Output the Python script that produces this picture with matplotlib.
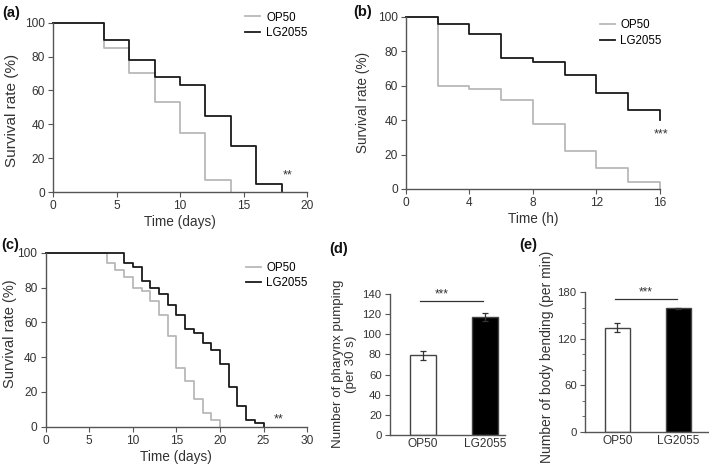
import matplotlib
matplotlib.use("Agg")
import matplotlib.pyplot as plt
from matplotlib.ticker import MultipleLocator

plt.rcParams['font.family'] = ['Liberation Sans', 'DejaVu Sans']

GRAY = '#b9b9b9'
BLACK = '#1a1a1a'
TXT = '#333333'

# (a) survival, days
a_op50_t = [0, 4, 6, 8, 10, 12, 14]
a_op50_s = [100, 85, 70, 53, 35, 7, 0]
a_lg_t = [0, 4, 6, 8, 10, 12, 14, 16, 18]
a_lg_s = [100, 90, 78, 68, 63, 45, 27, 5, 0]

# (b) survival, hours
b_op50_t = [0, 2, 4, 6, 8, 10, 12, 14, 16]
b_op50_s = [100, 60, 58, 52, 38, 22, 12, 4, 0]
b_lg_t = [0, 2, 4, 6, 8, 10, 12, 14, 16]
b_lg_s = [100, 96, 90, 76, 74, 66, 56, 46, 40]

# (c) lifespan, days
c_op50_t = [0, 7, 8, 9, 10, 11, 12, 13, 14, 15, 16, 17, 18, 19, 20]
c_op50_s = [100, 94, 90, 86, 80, 78, 72, 64, 52, 34, 26, 16, 8, 4, 0]
c_lg_t = [0, 9, 10, 11, 12, 13, 14, 15, 16, 17, 18, 19, 20, 21, 22, 23, 24, 25]
c_lg_s = [100, 94, 92, 84, 80, 76, 70, 64, 56, 54, 48, 44, 36, 23, 12, 4, 2, 0]

# (d), (e) bars
groups = ['OP50', 'LG2055']
pumping = [79, 117]
pumping_err = [4.5, 4]
bending = [134, 159]
bending_err = [6, 1]

fig = plt.figure(figsize=(7.09, 4.68), dpi=100)


def style(ax, tsize=8.6):
    for s in ['top', 'right']:
        ax.spines[s].set_visible(False)
    for s in ['left', 'bottom']:
        ax.spines[s].set_color('#555555')
        ax.spines[s].set_linewidth(1.0)
    ax.tick_params(labelsize=tsize, colors='#555555', labelcolor=TXT, length=3.5, width=0.8, pad=2.5)


def survival(rect, op_t, op_s, lg_t, lg_s, xmax, xstep, xlabel, ylab_size, ylab_xy,
             leg_pos, stars, star_xy):
    ax = fig.add_axes(rect)
    ax.step(op_t, op_s, where='post', color=GRAY, lw=1.3, clip_on=False, label='OP50')
    ax.step(lg_t, lg_s, where='post', color=BLACK, lw=1.3, clip_on=False, label='LG2055')
    ax.set_xlim(0, xmax)
    ax.set_ylim(0, 100)
    ax.xaxis.set_major_locator(MultipleLocator(xstep))
    ax.yaxis.set_major_locator(MultipleLocator(20))
    style(ax)
    ax.set_xlabel(xlabel, fontsize=9.8, color=TXT, labelpad=2)
    ax.set_ylabel('Survival rate (%)', fontsize=ylab_size, color=TXT)
    ax.yaxis.set_label_coords(ylab_xy[0], ylab_xy[1], transform=fig.transFigure)
    ax.legend(loc='upper left', bbox_to_anchor=leg_pos, frameon=False, fontsize=8.3,
              handlelength=1.3, handletextpad=0.5, labelspacing=0.3, borderpad=0)
    ax.text(star_xy[0], star_xy[1], stars, fontsize=9, color=TXT, ha='center', va='center')
    return ax


survival([0.0748, 0.5897, 0.3582, 0.3618], a_op50_t, a_op50_s, a_lg_t, a_lg_s,
         20, 5, 'Time (days)', 11, (0.027, 0.765), (0.735, 1.10), '**', (18.5, 10))
survival([0.5726, 0.5962, 0.3582, 0.3675], b_op50_t, b_op50_s, b_lg_t, b_lg_s,
         16, 4, 'Time (h)', 9.8, (0.522, 0.782), (0.74, 1.02), '***', (16.1, 32))
survival([0.0645, 0.0882, 0.3686, 0.3718], c_op50_t, c_op50_s, c_lg_t, c_lg_s,
         30, 5, 'Time (days)', 10.5, (0.024, 0.288), (0.743, 0.98), '**', (26.7, 4))


def bars(rect, vals, errs, ymax, ystep, ylabel, ylab_size, ylab_xy, sig_y, star_x, xmax, minor=None):
    ax = fig.add_axes(rect)
    x = range(len(groups))
    ax.bar(x, vals, width=0.42, color=['white', 'black'], edgecolor='#444444', linewidth=1.0,
           yerr=errs, error_kw=dict(ecolor='#333333', elinewidth=0.9, capsize=2.5, capthick=0.9))
    ax.set_xlim(-0.53, xmax)
    ax.set_ylim(0, ymax)
    ax.set_xticks(list(x))
    ax.set_xticklabels(groups)
    ax.yaxis.set_major_locator(MultipleLocator(ystep))
    if minor:
        ax.yaxis.set_minor_locator(MultipleLocator(minor))
        ax.tick_params(axis='y', which='minor', length=2, width=0.6, colors='#555555')
    style(ax, 8.2)
    ax.tick_params(axis='x', length=0, labelsize=8.6)
    ax.set_ylabel(ylabel, fontsize=ylab_size, color=TXT, linespacing=1.05)
    ax.yaxis.set_label_coords(ylab_xy[0], ylab_xy[1], transform=fig.transFigure)
    ax.plot([-0.04, 0.97], [sig_y, sig_y], color='#333333', lw=0.9, clip_on=False)
    ax.text(star_x, sig_y + ymax * 0.005, '***', fontsize=8.5, color=TXT, ha='center', va='bottom')
    return ax


bars([0.5501, 0.0705, 0.1622, 0.3013], pumping, pumping_err, 140, 20,
     'Number of pharynx pumping\n(per 30 s)', 9.6, (0.503, 0.222), 133, 0.3, 1.32)
bars([0.8251, 0.0769, 0.1749, 0.2991], bending, bending_err, 180, 60,
     'Number of body bending (per min)', 10, (0.781, 0.237), 171, 0.47, 1.5, minor=20)

for lbl, x, y in [('(a)', 0.003, 0.972), ('(b)', 0.498, 0.974), ('(c)', 0.002, 0.477),
                  ('(d)', 0.464, 0.468), ('(e)', 0.732, 0.477)]:
    fig.text(x, y, lbl, fontsize=10.5, fontweight='bold', color='#111111', va='center')

fig.savefig('out.png', dpi=100)
